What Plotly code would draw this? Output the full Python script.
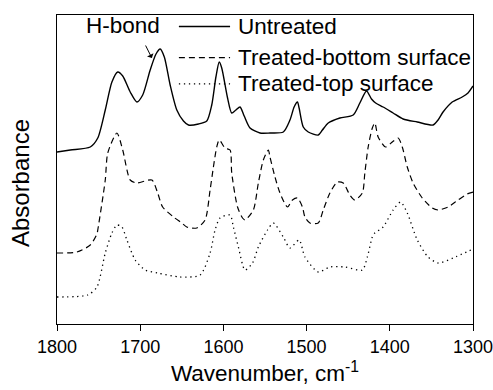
import plotly.graph_objects as go

# ---- data ----
untreated_wn = [1800, 1784, 1760, 1751, 1742, 1734, 1727, 1721, 1712, 1704, 1697, 1688, 1681, 1676,
                1671, 1664, 1656, 1648, 1642, 1630, 1620, 1614, 1609, 1605, 1602, 1595, 1590, 1585,
                1580, 1575, 1568, 1556, 1544, 1528, 1520, 1515, 1511, 1509, 1504, 1498, 1486, 1481,
                1474, 1460, 1444, 1436, 1428, 1422, 1417, 1408, 1396, 1384, 1367, 1348, 1342, 1336,
                1325, 1313, 1306, 1300]
untreated_abs = [1.72, 1.74, 1.77, 1.86, 2.14, 2.42, 2.52, 2.48, 2.32, 2.22, 2.29, 2.54, 2.70, 2.75,
                 2.67, 2.39, 2.14, 2.03, 1.99, 2.00, 2.03, 2.19, 2.47, 2.62, 2.56, 2.26, 2.11, 2.14,
                 2.17, 2.08, 1.96, 1.91, 1.91, 1.92, 2.04, 2.17, 2.22, 2.16, 1.97, 1.92, 1.89, 1.94,
                 2.01, 2.06, 2.09, 2.21, 2.33, 2.25, 2.21, 2.17, 2.11, 2.05, 2.02, 1.99, 2.04, 2.12,
                 2.22, 2.27, 2.31, 2.38]

bottom_wn = [1800, 1776, 1760, 1752, 1751, 1742, 1739, 1728, 1721, 1712, 1704, 1686, 1679, 1673,
             1660, 1650, 1644, 1632, 1622, 1616, 1612, 1608, 1605, 1598, 1592, 1590, 1583, 1577,
             1574, 1564, 1558, 1552, 1546, 1544, 1538, 1532, 1523, 1517, 1511, 1505, 1502, 1496,
             1486, 1480, 1472, 1463, 1456, 1448, 1442, 1433, 1430, 1426, 1421, 1418, 1414, 1405,
             1397, 1390, 1385, 1379, 1372, 1361, 1349, 1342, 1330, 1318, 1307, 1300]
bottom_abs = [0.71, 0.72, 0.79, 0.90, 0.94, 1.44, 1.71, 1.91, 1.74, 1.44, 1.41, 1.44, 1.31, 1.17,
              1.07, 1.01, 0.97, 0.96, 1.04, 1.34, 1.57, 1.77, 1.84, 1.76, 1.74, 1.51, 1.17, 1.06,
              1.04, 1.14, 1.41, 1.64, 1.74, 1.67, 1.47, 1.31, 1.17, 1.24, 1.26, 1.17, 1.07, 1.01,
              1.01, 1.14, 1.31, 1.42, 1.41, 1.29, 1.24, 1.31, 1.51, 1.77, 1.96, 2.01, 1.87, 1.77,
              1.82, 1.86, 1.77, 1.57, 1.41, 1.26, 1.16, 1.14, 1.17, 1.24, 1.30, 1.32]

top_wn = [1800, 1763, 1752, 1742, 1734, 1728, 1722, 1716, 1706, 1694, 1679, 1652, 1628, 1616,
          1610, 1604, 1592, 1588, 1582, 1574, 1565, 1558, 1547, 1540, 1528, 1520, 1509, 1502,
          1486, 1472, 1454, 1433, 1427, 1421, 1418, 1408, 1396, 1387, 1379, 1367, 1354, 1342,
          1324, 1300]
top_abs = [0.27, 0.29, 0.37, 0.71, 0.91, 0.99, 0.97, 0.84, 0.64, 0.54, 0.51, 0.47, 0.49, 0.71,
           0.94, 1.06, 1.09, 0.97, 0.77, 0.54, 0.61, 0.77, 0.94, 1.01, 0.87, 0.76, 0.84, 0.67,
           0.52, 0.57, 0.57, 0.54, 0.67, 0.87, 0.91, 0.97, 1.14, 1.22, 1.11, 0.84, 0.67, 0.61,
           0.66, 0.75]

series_names = ["Untreated", "Treated-bottom surface", "Treated-top surface"]
x_ticks = [1800, 1700, 1600, 1500, 1400, 1300]
hbond_wn, hbond_abs = 1686, 2.66

FONT = "Arial, Liberation Sans, Helvetica, sans-serif"

fig = go.Figure()
styles = [dict(color="black", width=1.4, dash="solid"),
          dict(color="black", width=1.2, dash="6px,4px"),
          dict(color="black", width=1.3, dash="1.3px,3.7px")]
for name, xs, ys, st in zip(series_names, [untreated_wn, bottom_wn, top_wn],
                            [untreated_abs, bottom_abs, top_abs], styles):
    fig.add_trace(go.Scatter(x=xs, y=ys, mode="lines", name=name, line=st,
                             line_shape="spline", line_smoothing=0.7, showlegend=False))

# manual legend (keys + labels)
leg_rows = [0.963, 0.862, 0.777]
for name, st, yy in zip(series_names, styles, leg_rows):
    fig.add_shape(type="line", xref="paper", yref="paper", x0=0.293, x1=0.416, y0=yy, y1=yy,
                  line=dict(color="black", width=st["width"], dash=st["dash"]))
    fig.add_annotation(xref="paper", yref="paper", x=0.43, y=yy, text=name, showarrow=False,
                       xanchor="left", yanchor="middle",
                       font=dict(family=FONT, size=22.5, color="black"))

# H-bond label and arrow
fig.add_annotation(xref="paper", yref="paper", x=0.159, y=0.965, text="H-bond", showarrow=False,
                   xanchor="center", yanchor="middle", font=dict(family=FONT, size=22.5, color="black"))
fig.add_annotation(x=hbond_wn, y=hbond_abs, xref="x", yref="y", text="", showarrow=True,
                   arrowhead=1, arrowsize=1.2, arrowwidth=1, arrowcolor="black", ax=-7, ay=-14)

# y-axis title (placed a little below the axis centre, as in the reference)
fig.add_annotation(xref="paper", yref="paper", x=-0.089, y=0.456, text="Absorbance", showarrow=False,
                   textangle=-90, xanchor="center", yanchor="middle",
                   font=dict(family=FONT, size=24, color="black"))

fig.update_layout(
    width=493, height=390,
    margin=dict(l=57, r=20, t=15, b=66, autoexpand=False),
    paper_bgcolor="white", plot_bgcolor="white",
    font=dict(family=FONT, color="black"),
    xaxis=dict(range=[1800, 1300], tickvals=x_ticks, ticks="outside", ticklen=6, tickwidth=1.3,
               tickcolor="black", showline=True, linecolor="black", linewidth=1.4, mirror=True,
               showgrid=False, zeroline=False, tickfont=dict(size=18), ticklabeloverflow="allow",
               automargin=False,
               title=dict(text="Wavenumber, cm<sup>-1</sup>", font=dict(size=22.5), standoff=9)),
    yaxis=dict(range=[0, 3.09], showticklabels=False, ticks="", showline=True, linecolor="black",
               linewidth=1.4, mirror=True, showgrid=False, zeroline=False, automargin=False),
)

# remove the browser's default 8px body margin so the 493x390 figure fills the window exactly
fig.write_html("out.html", config={"displayModeBar": False},
               post_script="document.body.style.margin='0';document.body.style.overflow='hidden';")
